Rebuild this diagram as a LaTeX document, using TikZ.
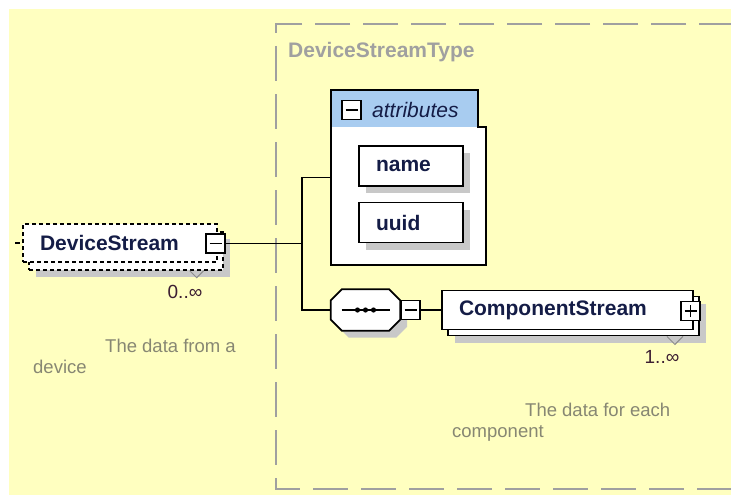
\documentclass[tikz,border=0pt]{standalone}
\usepackage{fontspec}
\setmainfont{Liberation Sans}
\usetikzlibrary{shadows}

\definecolor{bgyellow}{RGB}{255,255,192}
\definecolor{hdrblue}{RGB}{168,204,240}
\definecolor{shadowgray}{RGB}{200,200,200}
\definecolor{typegray}{RGB}{160,160,160}
\definecolor{notegray}{RGB}{135,135,115}
\definecolor{labelink}{RGB}{20,28,70}
\definecolor{countink}{RGB}{60,30,50}
\definecolor{markgray}{RGB}{140,140,140}

\begin{document}
\begin{tikzpicture}[x=1pt,y=-1pt,
    elem/.style={draw,line width=1.8pt,fill=white,inner xsep=17pt,inner ysep=0pt,align=left,
      text=labelink,font=\bfseries\fontsize{21}{24}\selectfont},
    optelem/.style={elem,line width=1.4pt,dash pattern=on 4pt off 3pt},
    castshadow/.style={drop shadow={shadow xshift=7pt,shadow yshift=-7pt,opacity=1,fill=shadowgray}},
    toggle/.style={draw,line width=1.4pt,fill=white,minimum size=19pt,inner sep=0pt},
    minus/.style={toggle,path picture={
      \draw[line width=1.4pt] ([xshift=-6pt]path picture bounding box.center) -- ([xshift=6pt]path picture bounding box.center);}},
    plus/.style={toggle,path picture={
      \draw[line width=1.4pt] ([xshift=-6pt]path picture bounding box.center) -- ([xshift=6pt]path picture bounding box.center);
      \draw[line width=1.4pt] ([yshift=-6pt]path picture bounding box.center) -- ([yshift=6pt]path picture bounding box.center);}},
    link/.style={line width=1.8pt},
    countlabel/.style={font=\fontsize{19}{22}\selectfont,text=countink,inner sep=0pt},
    countmark/.style={draw=markgray,line width=1pt},
    note/.style={font=\fontsize{18.5}{21}\selectfont,text=notegray,align=left,inner sep=0pt,anchor=north west}]

  \useasboundingbox (0,0) rectangle (731,495);
  \fill[bgyellow] (9,9) rectangle (731,495);

  % complex type frame
  \draw[line width=2pt,typegray,dash pattern=on 35pt off 13pt,dash phase=3pt]
    (731,24) -- (276,24) -- (276,489) -- (731,489);
  \node[anchor=west,inner sep=0pt,text=typegray,font=\bfseries\fontsize{21}{24}\selectfont] (typename) at (288,52) {DeviceStreamType};

  % DeviceStream element
  \node[optelem,castshadow,minimum width=194pt,minimum height=38pt] (devback) at (126,251) {};
  \node[optelem,text width=160pt,minimum height=38pt] (devstream) at (120,243) {DeviceStream};
  \node[minus] (devtoggle) at (215.5,243.5) {};
  \coordinate (devin) at (15,243);
  \draw[line width=1.2pt,dash pattern=on 5pt off 3pt] (devin) -- (devstream.west);
  \draw[countmark] ([xshift=-34pt]devback.south east) -- ++(7,7) -- ++(7,-7);
  \node[countlabel] (devcount) at (185,292) {0..∞};
  \node[note] (devnote) at (33,339) {\hspace*{72pt}The data from a\\device};

  % attributes group
  \node[inner sep=0pt,minimum width=155pt,minimum height=175pt] (attrs) at (408.5,177.5) {};
  \fill[white] (331,127) rectangle (486,265);
  \fill[hdrblue] (331,90) rectangle (478,127);
  \draw[line width=1.8pt] (331,90) -- (478,90) -- (478,127) -- (486,127) -- (486,265) -- (331,265) -- cycle;
  \node[minus] (attrtoggle) at (351.5,110) {};
  \node[anchor=west,inner sep=0pt,text=labelink,font=\itshape\fontsize{21}{24}\selectfont] (attrlabel) at (372,110) {attributes};
  \foreach \attr/\ypos in {name/166,uuid/222.5}
    \node[elem,castshadow,text width=70pt,minimum height=40pt] (\attr) at (411,\ypos) {\attr};

  % sequence
  \node[inner sep=0pt,minimum width=69pt,minimum height=41pt] (seq) at (365.5,310) {};
  \fill[shadowgray,transform canvas={shift={(7pt,-7pt)}}]
    ([xshift=11pt]seq.north west) -- ([xshift=-11pt]seq.north east) -- ([yshift=-11pt]seq.north east)
    -- ([yshift=11pt]seq.south east) -- ([xshift=-11pt]seq.south east) -- ([xshift=11pt]seq.south west)
    -- ([yshift=11pt]seq.south west) -- ([yshift=-11pt]seq.north west) -- cycle;
  \draw[line width=1.8pt,fill=white]
    ([xshift=11pt]seq.north west) -- ([xshift=-11pt]seq.north east) -- ([yshift=-11pt]seq.north east)
    -- ([yshift=11pt]seq.south east) -- ([xshift=-11pt]seq.south east) -- ([xshift=11pt]seq.south west)
    -- ([yshift=11pt]seq.south west) -- ([yshift=-11pt]seq.north west) -- cycle;
  \draw[line width=1.6pt] ([xshift=-24pt]seq.center) -- ([xshift=24pt]seq.center);
  \foreach \dx in {-8,0,8}
    \fill ([xshift=\dx pt]seq.center) circle [radius=2.6pt];
  \node[minus] (seqtoggle) at (410.5,310) {};

  % ComponentStream element
  \node[elem,castshadow,minimum width=251pt,minimum height=39pt] (compback) at (573.5,316) {};
  \node[elem,text width=217pt,minimum height=39pt] (compstream) at (567.5,310) {ComponentStream};
  \node[plus] (comptoggle) at (690.5,311) {};
  \draw[countmark] ([xshift=-33pt]compback.south east) -- ++(8,8) -- ++(8,-8);
  \node[countlabel] (compcount) at (662,357) {1..∞};
  \node[note] (compnote) at (452,403) {\hspace*{73pt}The data for each\\component};

  % connectors
  \coordinate (fork) at (302,243.5);
  \draw[link] (devtoggle) -- (fork);
  \draw[link] (attrs.west) -| (fork) |- (seq.west);
  \draw[link] (seqtoggle) -- (compstream);
\end{tikzpicture}
\end{document}
